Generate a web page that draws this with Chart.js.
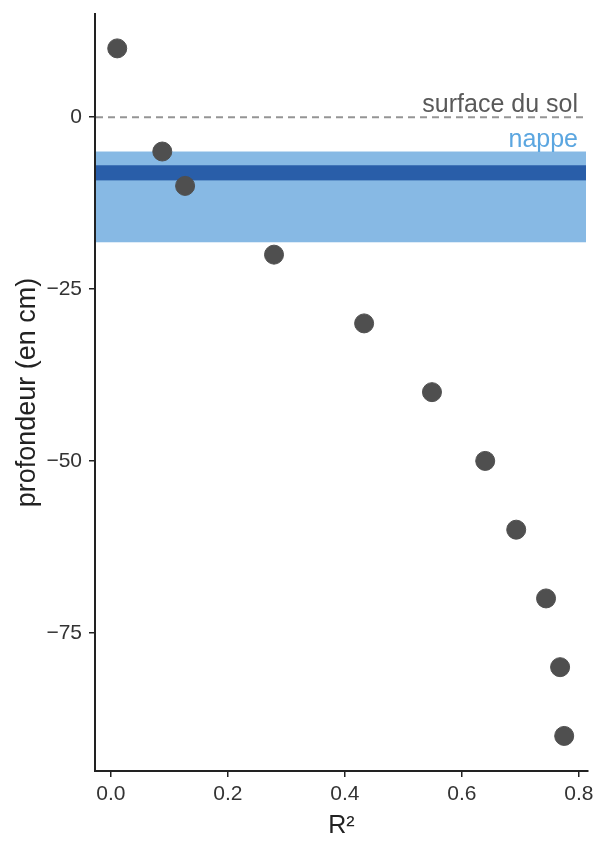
<!DOCTYPE html>
<html>
<head>
<meta charset="utf-8">
<script src="https://cdn.jsdelivr.net/npm/chart.js@4"></script>
<style>
  html, body { margin: 0; padding: 0; background: #fff; }
  #wrap { width: 594px; height: 841px; }
</style>
</head>
<body>
<div id="wrap"><canvas id="chart" width="594" height="841"></canvas></div>
<script>
// valeurs
const r2Values = [0.011, 0.088, 0.127, 0.279, 0.433, 0.549, 0.640, 0.693, 0.744, 0.768, 0.775];
const depths = [10, -5, -10, -20, -30, -40, -50, -60, -70, -80, -90];
const xTicks = [0, 0.2, 0.4, 0.6, 0.8];
const yTicks = [0, -25, -50, -75];
const nappeBand = [-5, -18.2];   // zone claire
const nappeLevel = [-7, -9.2];   // niveau moyen (bande foncée)
const surfaceLevel = 0;

const points = r2Values.map((x, i) => ({ x: x, y: depths[i] }));
const FONT = '"Liberation Sans", Arial, sans-serif';

// bandes de la nappe + ligne de surface, dessinées avant les points
const nappePlugin = {
  id: 'nappe',
  beforeDatasetsDraw(chart) {
    const { ctx, chartArea, scales } = chart;
    const y = scales.y;
    ctx.save();
    ctx.fillStyle = '#87b9e4';
    let top = y.getPixelForValue(nappeBand[0]);
    let bot = y.getPixelForValue(nappeBand[1]);
    ctx.fillRect(chartArea.left + 1, top, chartArea.right - chartArea.left - 3, bot - top);
    ctx.fillStyle = '#295ea9';
    top = y.getPixelForValue(nappeLevel[0]);
    bot = y.getPixelForValue(nappeLevel[1]);
    ctx.fillRect(chartArea.left + 1, top, chartArea.right - chartArea.left - 3, bot - top);

    const y0 = y.getPixelForValue(surfaceLevel);
    ctx.strokeStyle = '#959595';
    ctx.lineWidth = 2;
    ctx.setLineDash([7, 5]);
    ctx.beginPath();
    ctx.moveTo(chartArea.left + 1, y0);
    ctx.lineTo(chartArea.right - 3, y0);
    ctx.stroke();
    ctx.setLineDash([]);

    ctx.font = '25px ' + FONT;
    ctx.textAlign = 'right';
    ctx.textBaseline = 'alphabetic';
    ctx.fillStyle = '#595959';
    ctx.fillText('surface du sol', chartArea.right - 10, y0 - 5);
    ctx.fillStyle = '#5ba6e0';
    ctx.fillText('nappe', chartArea.right - 10, y.getPixelForValue(nappeBand[0]) - 5);
    ctx.restore();
  }
};

const axisColor = '#222';
const tickFont = { family: FONT, size: 21 };

new Chart(document.getElementById('chart'), {
  type: 'scatter',
  data: {
    datasets: [{
      data: points,
      backgroundColor: '#4f4f4f',
      borderColor: '#4f4f4f',
      pointRadius: 9.5,
      pointHoverRadius: 9.5
    }]
  },
  options: {
    responsive: false,
    animation: false,
    layout: { autoPadding: false, padding: { top: 14, right: 6, left: 0, bottom: 0 } },
    plugins: { legend: { display: false }, tooltip: { enabled: false } },
    scales: {
      x: {
        type: 'linear',
        min: -0.027,
        max: 0.8157,
        afterBuildTicks: s => { s.ticks = xTicks.map(v => ({ value: v })); },
        afterFit: s => { s.height = 70; s.paddingLeft = 0; s.paddingRight = 0; },
        ticks: {
          color: '#333',
          font: tickFont,
          padding: 5,
          callback: v => v.toFixed(1)
        },
        grid: { drawOnChartArea: false, drawTicks: true, tickLength: 6, color: axisColor, lineWidth: 1.5 },
        border: { display: true, color: axisColor, width: 2 },
        title: {
          display: true,
          text: 'R²',
          color: '#222',
          font: { family: FONT, size: 25 },
          padding: { top: 0, bottom: 0 }
        }
      },
      y: {
        type: 'linear',
        min: -95.1,
        max: 15,
        afterBuildTicks: s => { s.ticks = yTicks.map(v => ({ value: v })); },
        afterFit: s => { s.width = 95; s.paddingTop = 0; s.paddingBottom = 0; },
        ticks: {
          color: '#333',
          font: tickFont,
          padding: 7,
          callback: v => (v < 0 ? '\u2212' + Math.abs(v) : String(v))
        },
        grid: { drawOnChartArea: false, drawTicks: true, tickLength: 6, color: axisColor, lineWidth: 1.5 },
        border: { display: true, color: axisColor, width: 2 },
        title: {
          display: true,
          text: 'profondeur (en cm)',
          color: '#222',
          font: { family: FONT, size: 27 },
          padding: { top: 11, bottom: 0 }
        }
      }
    }
  },
  plugins: [nappePlugin]
});
</script>
</body>
</html>
